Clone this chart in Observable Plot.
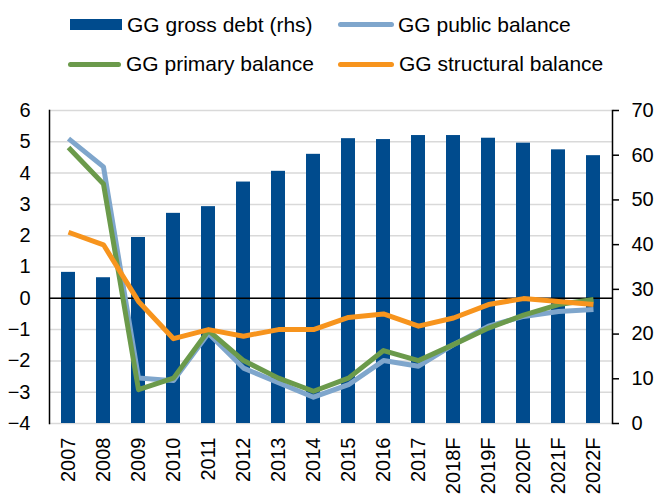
<!DOCTYPE html>
<html>
<head>
<meta charset="utf-8">
<script src="https://cdn.jsdelivr.net/npm/d3@7"></script>
<script src="https://cdn.jsdelivr.net/npm/@observablehq/plot@0.6"></script>
<style>
  body { margin: 0; background: #fff; }
  #wrap { position: relative; width: 657px; height: 494px; font-family: "Liberation Sans", Arial, sans-serif; }
  #legend { position: relative; width: 657px; height: 90px; }
  .sw { position: absolute; }
  .lt { position: absolute; font-size: 21px; line-height: 24px; color: #000; white-space: nowrap; }
</style>
</head>
<body>
<div id="wrap">
  <div id="legend"></div>
  <div id="chart"></div>
</div>
<script>
// ---- data ----
const years = ["2007","2008","2009","2010","2011","2012","2013","2014","2015","2016","2017","2018F","2019F","2020F","2021F","2022F"];
const grossDebt = [33.8, 32.6, 41.6, 47.0, 48.5, 54.0, 56.4, 60.2, 63.7, 63.5, 64.4, 64.4, 63.8, 62.7, 61.2, 59.9];
const publicBalance = [5.1, 4.2, -2.55, -2.63, -1.12, -2.23, -2.7, -3.16, -2.76, -1.99, -2.17, -1.48, -0.89, -0.58, -0.42, -0.36];
const primaryBalance = [4.82, 3.65, -2.92, -2.55, -1.03, -1.99, -2.55, -2.97, -2.55, -1.67, -1.99, -1.48, -0.95, -0.54, -0.2, -0.04];
const structuralBalance = [2.11, 1.71, -0.1, -1.29, -1.0, -1.21, -1.0, -1.0, -0.61, -0.5, -0.89, -0.63, -0.2, -0.01, -0.1, -0.2];
const leftTicks = [-4, -3, -2, -1, 0, 1, 2, 3, 4, 5, 6];
const rightTicks = [0, 10, 20, 30, 40, 50, 60, 70];
const seriesNames = ["GG gross debt (rhs)", "GG public balance", "GG primary balance", "GG structural balance"];
const colors = ["#004b8d", "#7fa6cc", "#6b9a4b", "#f7941d"];

// map rhs (0..70) onto lhs (-4..6)
const toLeft = v => v / 7 - 4;
const toRight = v => Math.round((v + 4) * 7);

const debtRows = years.map((y, i) => ({year: y, v: toLeft(grossDebt[i])}));
const lineRows = (arr) => years.map((y, i) => ({year: y, v: arr[i]}));

// ---- legend ----
const legend = document.getElementById("legend");
const legendItems = [
  {name: seriesNames[0], color: colors[0], type: "bar", sx: 70, sw: 52, tx: 127, cy: 24.5},
  {name: seriesNames[1], color: colors[1], type: "line", sx: 338, sw: 56, tx: 398, cy: 24.5},
  {name: seriesNames[2], color: colors[2], type: "line", sx: 68, sw: 53, tx: 126, cy: 64},
  {name: seriesNames[3], color: colors[3], type: "line", sx: 338, sw: 56, tx: 399, cy: 64}
];
for (const it of legendItems) {
  const s = document.createElement("div");
  s.className = "sw";
  const h = it.type === "bar" ? 11 : 5;
  s.style.left = it.sx + "px";
  s.style.width = it.sw + "px";
  s.style.top = (it.cy - h / 2) + "px";
  s.style.height = h + "px";
  s.style.background = it.color;
  if (it.type === "line") s.style.borderRadius = "3px";
  legend.appendChild(s);
  const t = document.createElement("div");
  t.className = "lt";
  t.style.left = it.tx + "px";
  t.style.top = (it.cy - 12) + "px";
  t.textContent = it.name;
  legend.appendChild(t);
}

// ---- chart ----
const lineOpts = (arr, c) => Plot.line(lineRows(arr), {x: "year", y: "v", stroke: c, strokeWidth: 5, strokeLinejoin: "round", strokeLinecap: "butt"});

const plot = Plot.plot({
  width: 657,
  height: 404,
  marginTop: 20,
  marginBottom: 71,
  marginLeft: 49,
  marginRight: 45,
  style: {fontFamily: "'Liberation Sans', Arial, sans-serif", fontSize: "20px", color: "#000", background: "#fff"},
  x: {type: "band", domain: years, paddingInner: 0.6, paddingOuter: 0.3, label: null},
  y: {domain: [-4, 6], label: null},
  marks: [
    Plot.ruleY(leftTicks, {stroke: "#d9d9d9", strokeWidth: 1.5}),
    Plot.barY(debtRows, {x: "year", y1: -4, y2: "v", fill: colors[0]}),
    Plot.ruleY([0], {stroke: "#000", strokeWidth: 1.5}),
    lineOpts(publicBalance, colors[1]),
    lineOpts(primaryBalance, colors[2]),
    lineOpts(structuralBalance, colors[3]),
    Plot.axisY(leftTicks, {anchor: "left", tickSize: 0, tickPadding: 19, label: null, fontSize: 20}),
    Plot.axisY(rightTicks.map(toLeft), {anchor: "right", tickSize: 6, tickPadding: 13, tickFormat: toRight, label: null, fontSize: 20, strokeWidth: 1.5}),
    Plot.frame({anchor: "left", stroke: "#000", strokeWidth: 1.5}),
    Plot.frame({anchor: "right", stroke: "#000", strokeWidth: 1.5}),
    Plot.axisX({tickSize: 0, tickPadding: 14, tickRotate: -90, label: null, fontSize: 20})
  ]
});
document.getElementById("chart").appendChild(plot);
</script>
</body>
</html>
